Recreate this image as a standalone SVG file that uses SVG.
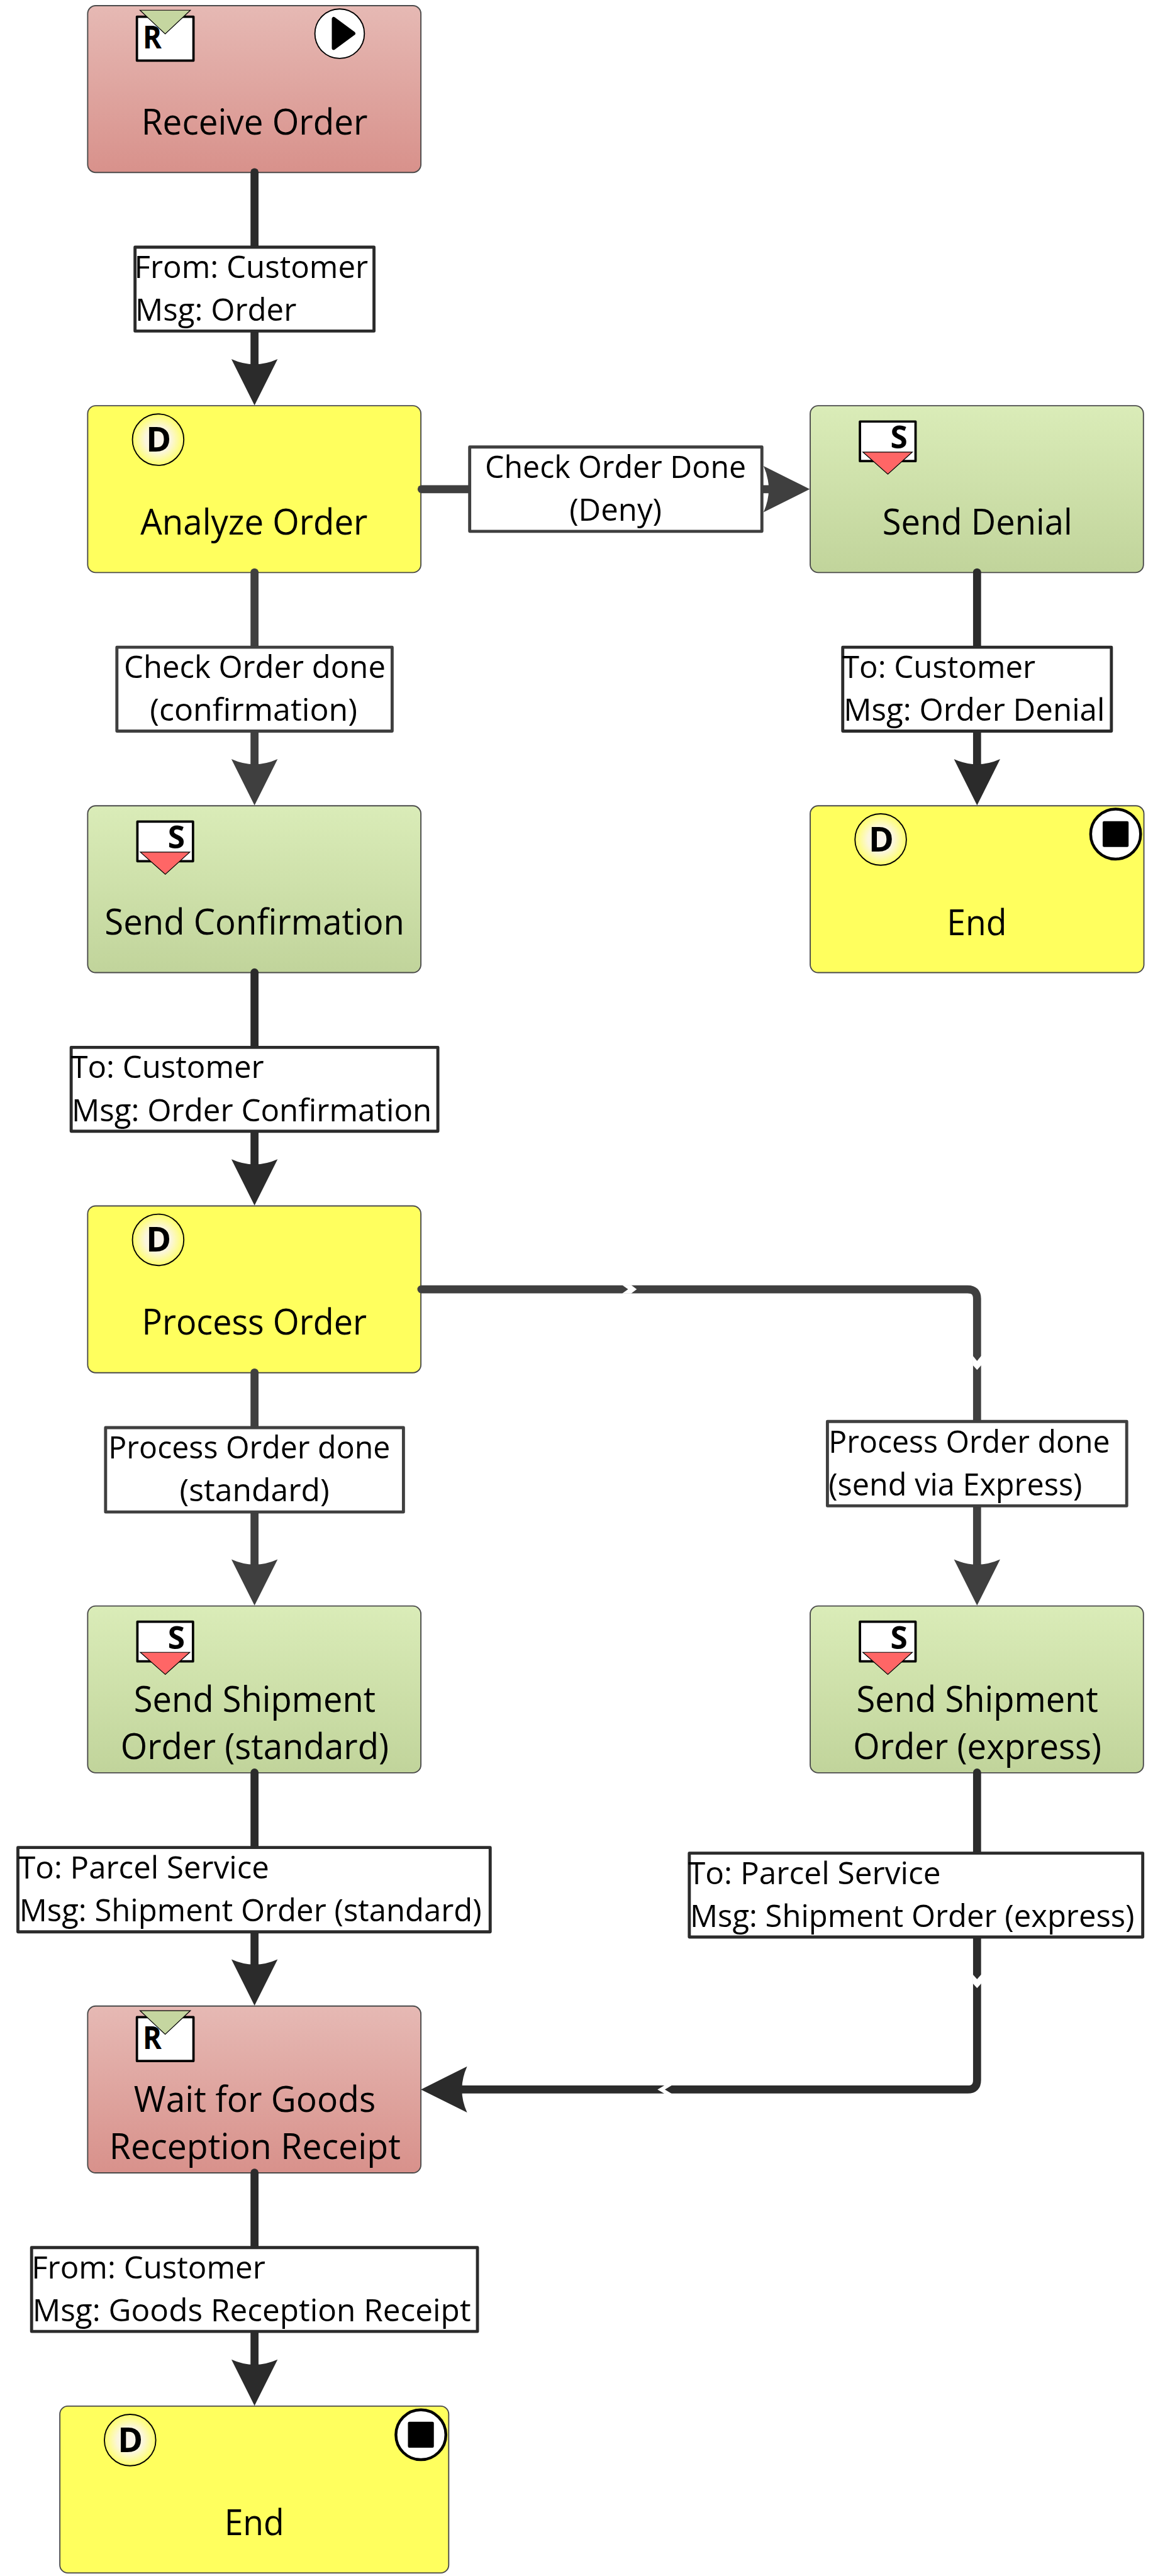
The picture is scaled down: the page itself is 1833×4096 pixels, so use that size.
<svg xmlns="http://www.w3.org/2000/svg" width="1833" height="4096" viewBox="0 0 1833 4096">
<style>
.n{stroke:#4a4a4a;stroke-width:2.5}
.red{fill:url(#gRed)}.green{fill:url(#gGreen)}.yellow{fill:#ffff5e}
text{font-family:"Open Sans","Noto Sans","Liberation Sans",sans-serif;fill:#000}
.t{font-size:75px}
.e{font-size:65px}
.b{font-weight:700;font-size:66px}
.line{fill:none;stroke-width:17;stroke-linecap:round}
.dk{stroke:#2b2b2b}.md{stroke:#3f3f3f}
.hdk{fill:#2b2b2b}.hmd{fill:#3f3f3f}
.box{fill:#fff;stroke-width:6.5;stroke-linejoin:round}
.chev{fill:#fff}
</style>
<defs>
<linearGradient id="gRed" x1="0" y1="0" x2="0" y2="1"><stop offset="0" stop-color="#e6b9b4"/><stop offset="1" stop-color="#d8918b"/></linearGradient>
<linearGradient id="gGreen" x1="0" y1="0" x2="0" y2="1"><stop offset="0" stop-color="#daecb8"/><stop offset="1" stop-color="#c1d49b"/></linearGradient>
<radialGradient id="gD"><stop offset="0" stop-color="#faf5ef"/><stop offset=".5" stop-color="#fbf6dc"/><stop offset="1" stop-color="#ffff6a"/></radialGradient>
<path id="head" d="M0 0L-49 -98Q0 -76 49 -98Z"/>
<rect id="envR" x="104.5" y="23.5" width="120" height="93" fill="#fff" stroke="#000" stroke-width="5" stroke-linejoin="round"/>
<path id="triR" d="M111 9.7H218L164.5 60Z" fill="#c5d6a0" stroke="#000" stroke-width="1.6"/>
<rect id="envS" x="105.5" y="33.5" width="118" height="84" fill="#fff" stroke="#000" stroke-width="5" stroke-linejoin="round"/>
<path id="triS" d="M111.7 98.3H216.7L164.7 145.3Z" fill="#ff6666" stroke="#000" stroke-width="1.6"/>
<ellipse id="dIcon" cx="0" cy="0" rx="54.5" ry="54.5" fill="url(#gD)" stroke="#000" stroke-width="2.5"/>
<g id="stopIcon"><circle r="53" fill="#fff" stroke="#000" stroke-width="6"/><rect x="-27.5" y="-27.5" width="55" height="55" rx="3" fill="#000"/></g>
</defs>
<g transform="scale(0.7493)">
<g id="node-receive-order">
<rect class="n red" x="186" y="12" width="707" height="354" rx="17"/>
<use href="#envR" transform="translate(186 12)"/>
<text class="b" x="303" y="103" textLength="40" lengthAdjust="spacingAndGlyphs">R</text>
<use href="#triR" transform="translate(186 12)"/>
<ellipse cx="720.6" cy="71.5" rx="52.5" ry="52.5" fill="#fff" stroke="#000" stroke-width="2.5"/>
<path d="M708 40V102L750 71Z" fill="#000" stroke="#000" stroke-width="8" stroke-linejoin="round"/>
<text class="t" x="300" y="285" textLength="480" lengthAdjust="spacingAndGlyphs">Receive Order</text>
</g>
<g id="node-analyze-order">
<rect class="n yellow" x="186" y="861" width="707" height="354" rx="17"/>
<use href="#dIcon" transform="translate(335.5 933)"/>
<text class="b" x="310" y="958" style="font-size:72px">D</text>
<text class="t" x="298" y="1134" textLength="482" lengthAdjust="spacingAndGlyphs">Analyze Order</text>
</g>
<g id="node-send-denial">
<rect class="n green" x="1719" y="861" width="707" height="354" rx="17"/>
<use href="#envS" transform="translate(1719 861)"/>
<text class="b" x="1889" y="952">S</text>
<use href="#triS" transform="translate(1719 861)"/>
<text class="t" x="1872" y="1134" textLength="403" lengthAdjust="spacingAndGlyphs">Send Denial</text>
</g>
<g id="node-send-confirmation">
<rect class="n green" x="186" y="1710" width="707" height="354" rx="17"/>
<use href="#envS" transform="translate(186 1710)"/>
<text class="b" x="356" y="1801">S</text>
<use href="#triS" transform="translate(186 1710)"/>
<text class="t" x="222" y="1983" textLength="636" lengthAdjust="spacingAndGlyphs">Send Confirmation</text>
</g>
<g id="node-end-right">
<rect class="n yellow" x="1719" y="1710" width="708" height="354" rx="17"/>
<use href="#dIcon" transform="translate(1868.5 1781.5)"/>
<text class="b" x="1843" y="1807" style="font-size:72px">D</text>
<use href="#stopIcon" transform="translate(2367 1770)"/>
<text class="t" x="2009" y="1984" textLength="127" lengthAdjust="spacingAndGlyphs">End</text>
</g>
<g id="node-process-order">
<rect class="n yellow" x="186" y="2559" width="707" height="354" rx="17"/>
<use href="#dIcon" transform="translate(335.5 2631)"/>
<text class="b" x="310" y="2656" style="font-size:72px">D</text>
<text class="t" x="301" y="2832" textLength="477" lengthAdjust="spacingAndGlyphs">Process Order</text>
</g>
<g id="node-ship-standard">
<rect class="n green" x="186" y="3408" width="707" height="354" rx="17"/>
<use href="#envS" transform="translate(186 3408)"/>
<text class="b" x="356" y="3499">S</text>
<use href="#triS" transform="translate(186 3408)"/>
<text class="t" x="284" y="3633" textLength="513" lengthAdjust="spacingAndGlyphs">Send Shipment</text>
<text class="t" x="256" y="3733" textLength="569" lengthAdjust="spacingAndGlyphs">Order (standard)</text>
</g>
<g id="node-ship-express">
<rect class="n green" x="1719" y="3408" width="707" height="354" rx="17"/>
<use href="#envS" transform="translate(1719 3408)"/>
<text class="b" x="1889" y="3499">S</text>
<use href="#triS" transform="translate(1719 3408)"/>
<text class="t" x="1817" y="3633" textLength="513" lengthAdjust="spacingAndGlyphs">Send Shipment</text>
<text class="t" x="1810" y="3733" textLength="527" lengthAdjust="spacingAndGlyphs">Order (express)</text>
</g>
<g id="node-wait-receipt">
<rect class="n red" x="186" y="4257" width="707" height="354" rx="17"/>
<use href="#envR" transform="translate(186 4257)"/>
<text class="b" x="303" y="4348" textLength="40" lengthAdjust="spacingAndGlyphs">R</text>
<use href="#triR" transform="translate(186 4257)"/>
<text class="t" x="284" y="4482" textLength="513" lengthAdjust="spacingAndGlyphs">Wait for Goods</text>
<text class="t" x="232" y="4582" textLength="618" lengthAdjust="spacingAndGlyphs">Reception Receipt</text>
</g>
<g id="node-end-bottom">
<rect class="n yellow" x="127" y="5106" width="825" height="354" rx="17"/>
<use href="#dIcon" transform="translate(276 5178)"/>
<text class="b" x="250" y="5203" style="font-size:72px">D</text>
<use href="#stopIcon" transform="translate(893 5166.7)"/>
<text class="t" x="476" y="5380" textLength="127" lengthAdjust="spacingAndGlyphs">End</text>
</g>
<g id="connectors">
<path class="line dk" d="M540 365.5V781"/><use href="#head" class="hdk" transform="translate(540 860)"/>
<path class="line md" d="M894.5 1038H1640"/><use href="#head" class="hmd" transform="translate(1718 1038) rotate(-90)"/>
<path class="line md" d="M540 1214.5V1630"/><use href="#head" class="hmd" transform="translate(540 1709)"/>
<path class="line dk" d="M2073 1214.5V1630"/><use href="#head" class="hdk" transform="translate(2073 1709)"/>
<path class="line dk" d="M540 2063.5V2479"/><use href="#head" class="hdk" transform="translate(540 2558)"/>
<path class="line md" d="M894 2736H2053Q2073 2736 2073 2756V3328"/><use href="#head" class="hmd" transform="translate(2073 3407)"/>
<path class="chev" d="M1320 2727L1332.6 2736L1320 2745H1339L1351 2736L1339 2727Z"/>
<path class="chev" d="M2064 2877L2073 2888L2082 2877V2897L2073 2907L2064 2897Z"/>
<path class="line md" d="M540 2912.5V3328"/><use href="#head" class="hmd" transform="translate(540 3407)"/>
<path class="line dk" d="M540 3761.5V4177"/><use href="#head" class="hdk" transform="translate(540 4256)"/>
<path class="line dk" d="M2073 3761.5V4414Q2073 4434 2053 4434H975"/><use href="#head" class="hdk" transform="translate(893 4434) rotate(90)"/>
<path class="chev" d="M2064 4190L2073 4200L2082 4190V4209L2073 4219L2064 4209Z"/>
<path class="chev" d="M1410 4425L1395 4434L1410 4443H1425.5L1410.6 4434L1425.5 4425Z"/>
<path class="line dk" d="M540 4610.5V5026"/><use href="#head" class="hdk" transform="translate(540 5105)"/>
</g>
<g id="labels">
<g id="label-receive"><rect class="box dk" x="286.5" y="524.5" width="507" height="178"/>
<text class="e" x="285" y="590" textLength="496" lengthAdjust="spacingAndGlyphs">From: Customer</text>
<text class="e" x="287" y="681" textLength="342" lengthAdjust="spacingAndGlyphs">Msg: Order</text></g>
<g id="label-deny"><rect class="box md" x="996.5" y="948.5" width="620" height="179"/>
<text class="e" x="1029" y="1014" textLength="554" lengthAdjust="spacingAndGlyphs">Check Order Done</text>
<text class="e" x="1208" y="1105" textLength="196" lengthAdjust="spacingAndGlyphs">(Deny)</text></g>
<g id="label-confirm-done"><rect class="box md" x="248" y="1373.5" width="584" height="178"/>
<text class="e" x="263" y="1439" textLength="555" lengthAdjust="spacingAndGlyphs">Check Order done</text>
<text class="e" x="318" y="1530" textLength="440" lengthAdjust="spacingAndGlyphs">(confirmation)</text></g>
<g id="label-denial"><rect class="box dk" x="1788" y="1373.5" width="570" height="178"/>
<text class="e" x="1787" y="1439" textLength="410" lengthAdjust="spacingAndGlyphs">To: Customer</text>
<text class="e" x="1790" y="1530" textLength="554" lengthAdjust="spacingAndGlyphs">Msg: Order Denial</text></g>
<g id="label-confirmation"><rect class="box dk" x="151" y="2222.5" width="778" height="178"/>
<text class="e" x="150" y="2288" textLength="410" lengthAdjust="spacingAndGlyphs">To: Customer</text>
<text class="e" x="152" y="2379" textLength="764" lengthAdjust="spacingAndGlyphs">Msg: Order Confirmation</text></g>
<g id="label-process-standard"><rect class="box md" x="224" y="3029.5" width="632" height="179"/>
<text class="e" x="230" y="3095" textLength="598" lengthAdjust="spacingAndGlyphs">Process Order done</text>
<text class="e" x="381" y="3186" textLength="318" lengthAdjust="spacingAndGlyphs">(standard)</text></g>
<g id="label-process-express"><rect class="box md" x="1755.5" y="3016.5" width="635" height="179"/>
<text class="e" x="1758" y="3083" textLength="597" lengthAdjust="spacingAndGlyphs">Process Order done</text>
<text class="e" x="1758" y="3173" textLength="538" lengthAdjust="spacingAndGlyphs">(send via Express)</text></g>
<g id="label-ship-standard"><rect class="box dk" x="38" y="3920.5" width="1002" height="179"/>
<text class="e" x="39" y="3986" textLength="532" lengthAdjust="spacingAndGlyphs">To: Parcel Service</text>
<text class="e" x="41" y="4077" textLength="981" lengthAdjust="spacingAndGlyphs">Msg: Shipment Order (standard)</text></g>
<g id="label-ship-express"><rect class="box dk" x="1462.5" y="3932.5" width="962" height="178"/>
<text class="e" x="1460" y="3998" textLength="536" lengthAdjust="spacingAndGlyphs">To: Parcel Service</text>
<text class="e" x="1464" y="4089" textLength="943" lengthAdjust="spacingAndGlyphs">Msg: Shipment Order (express)</text></g>
<g id="label-receipt"><rect class="box dk" x="67" y="4769.5" width="946" height="178"/>
<text class="e" x="67" y="4835" textLength="496" lengthAdjust="spacingAndGlyphs">From: Customer</text>
<text class="e" x="69" y="4926" textLength="930" lengthAdjust="spacingAndGlyphs">Msg: Goods Reception Receipt</text></g>
</g>
</g>
</svg>
